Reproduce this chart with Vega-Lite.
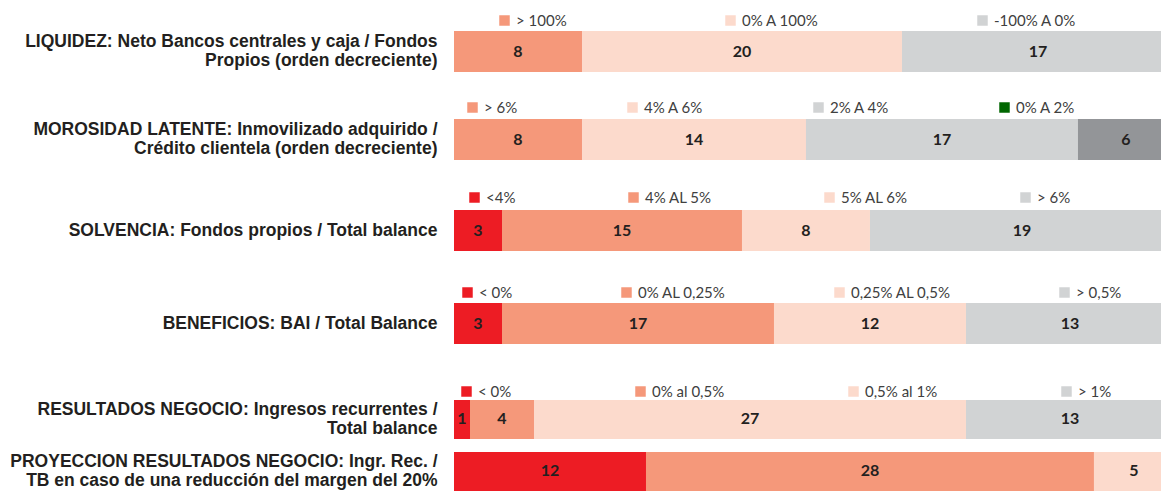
{
  "$schema": "https://vega.github.io/schema/vega-lite/v6.json",
  "padding": {"top": 13, "left": 9, "right": 0, "bottom": 0},
  "background": "white",
  "config": {
    "view": {"stroke": null},
    "legend": {"orient": "none", "direction": "horizontal", "title": null, "symbolType": "square", "symbolSize": 110, "symbolStrokeWidth": 0, "labelFont": "Lato", "labelFontSize": 15, "labelColor": "#404040", "padding": 0, "labelOffset": 4, "gridAlign": "none"},
    "axisY": {"title": null, "ticks": false, "domain": false, "labelPadding": 17, "labelFont": "Liberation Sans", "labelFontWeight": "bold", "labelFontSize": 17.5, "labelColor": "#231F20", "labelLimit": 700, "labelLineHeight": 19, "labelExpr": "split(datum.value, '\\n')", "labelAlign": "right"},
    "text": {"font": "Lato", "fontWeight": "bold", "fontSize": 16, "color": "#231F20", "clip": true},
    "bar": {"clip": true}
  },
  "data": {"values": [
    {"row": 1, "label": "LIQUIDEZ: Neto Bancos centrales y caja / Fondos\nPropios (orden decreciente)", "cat": "> 100%", "ord": 1, "n": 8},
    {"row": 1, "label": "LIQUIDEZ: Neto Bancos centrales y caja / Fondos\nPropios (orden decreciente)", "cat": "0% A 100%", "ord": 2, "n": 20},
    {"row": 1, "label": "LIQUIDEZ: Neto Bancos centrales y caja / Fondos\nPropios (orden decreciente)", "cat": "-100% A 0%", "ord": 3, "n": 17},
    {"row": 2, "label": "MOROSIDAD LATENTE: Inmovilizado adquirido /\nCrédito clientela (orden decreciente)", "cat": "> 6%", "ord": 1, "n": 8},
    {"row": 2, "label": "MOROSIDAD LATENTE: Inmovilizado adquirido /\nCrédito clientela (orden decreciente)", "cat": "4% A 6%", "ord": 2, "n": 14},
    {"row": 2, "label": "MOROSIDAD LATENTE: Inmovilizado adquirido /\nCrédito clientela (orden decreciente)", "cat": "2% A 4%", "ord": 3, "n": 17},
    {"row": 2, "label": "MOROSIDAD LATENTE: Inmovilizado adquirido /\nCrédito clientela (orden decreciente)", "cat": "0% A 2%", "ord": 4, "n": 6},
    {"row": 3, "label": "SOLVENCIA: Fondos propios / Total balance", "cat": "<4%", "ord": 1, "n": 3},
    {"row": 3, "label": "SOLVENCIA: Fondos propios / Total balance", "cat": "4% AL 5%", "ord": 2, "n": 15},
    {"row": 3, "label": "SOLVENCIA: Fondos propios / Total balance", "cat": "5% AL 6%", "ord": 3, "n": 8},
    {"row": 3, "label": "SOLVENCIA: Fondos propios / Total balance", "cat": "> 6%", "ord": 4, "n": 19},
    {"row": 4, "label": "BENEFICIOS: BAI / Total Balance", "cat": "< 0%", "ord": 1, "n": 3},
    {"row": 4, "label": "BENEFICIOS: BAI / Total Balance", "cat": "0% AL 0,25%", "ord": 2, "n": 17},
    {"row": 4, "label": "BENEFICIOS: BAI / Total Balance", "cat": "0,25% AL 0,5%", "ord": 3, "n": 12},
    {"row": 4, "label": "BENEFICIOS: BAI / Total Balance", "cat": "> 0,5%", "ord": 4, "n": 13},
    {"row": 5, "label": "RESULTADOS NEGOCIO: Ingresos recurrentes /\nTotal balance", "cat": "< 0%", "ord": 1, "n": 1},
    {"row": 5, "label": "RESULTADOS NEGOCIO: Ingresos recurrentes /\nTotal balance", "cat": "0% al 0,5%", "ord": 2, "n": 4},
    {"row": 5, "label": "RESULTADOS NEGOCIO: Ingresos recurrentes /\nTotal balance", "cat": "0,5% al 1%", "ord": 3, "n": 27},
    {"row": 5, "label": "RESULTADOS NEGOCIO: Ingresos recurrentes /\nTotal balance", "cat": "> 1%", "ord": 4, "n": 13},
    {"row": 6, "label": "PROYECCION RESULTADOS NEGOCIO: Ingr. Rec. /\nTB en caso de una reducción del margen del 20%", "cat": "< 0%", "ord": 1, "n": 12},
    {"row": 6, "label": "PROYECCION RESULTADOS NEGOCIO: Ingr. Rec. /\nTB en caso de una reducción del margen del 20%", "cat": "0% al 0,5%", "ord": 2, "n": 28},
    {"row": 6, "label": "PROYECCION RESULTADOS NEGOCIO: Ingr. Rec. /\nTB en caso de una reducción del margen del 20%", "cat": "0,5% al 1%", "ord": 3, "n": 5}
  ]},
  "bounds": "flush",
  "spacing": 47,
  "resolve": {"scale": {"color": "independent", "x": "independent", "y": "independent"}, "legend": {"color": "independent"}},
  "vconcat": [
    {
      "width": 707, "height": 41,
      "transform": [{"filter": "datum.row === 1"}],
      "encoding": {
        "y": {"field": "label", "type": "nominal", "scale": {"paddingInner": 0, "paddingOuter": 0}, "axis": {"labelOffset": -9.5}},
        "x": {"field": "n", "type": "quantitative", "stack": "zero", "scale": {"domain": [0, 44.19], "nice": false}, "axis": null},
        "order": {"field": "ord", "type": "quantitative"}
      },
      "layer": [
        {"mark": "bar", "encoding": {"color": {"field": "cat", "type": "nominal", "scale": {"domain": ["> 100%", "0% A 100%", "-100% A 0%"], "range": ["#F5987A", "#FCDACC", "#D1D3D4"]}, "legend": {"legendX": 43, "legendY": -18, "columns": 3, "columnPadding": 156}}}},
        {"mark": "text", "encoding": {"x": {"field": "n", "type": "quantitative", "stack": "zero", "bandPosition": 0.5}, "text": {"field": "n", "type": "quantitative"}}}
      ]
    },
    {
      "width": 707, "height": 41,
      "transform": [{"filter": "datum.row === 2"}],
      "encoding": {
        "y": {"field": "label", "type": "nominal", "scale": {"paddingInner": 0, "paddingOuter": 0}, "axis": {"labelOffset": -9.5}},
        "x": {"field": "n", "type": "quantitative", "stack": "zero", "scale": {"domain": [0, 44.19], "nice": false}, "axis": null},
        "order": {"field": "ord", "type": "quantitative"}
      },
      "layer": [
        {"mark": "bar", "encoding": {"color": {"condition": {"test": "datum.cat === '0% A 2%'", "value": "#939598"}, "field": "cat", "type": "nominal", "scale": {"domain": ["> 6%", "4% A 6%", "2% A 4%", "0% A 2%"], "range": ["#F5987A", "#FCDACC", "#D1D3D4", "#006600"]}, "legend": {"legendX": 11, "legendY": -19, "columns": 4, "columnPadding": 107}}}},
        {"mark": "text", "encoding": {"x": {"field": "n", "type": "quantitative", "stack": "zero", "bandPosition": 0.5}, "text": {"field": "n", "type": "quantitative"}}}
      ]
    },
    {
      "width": 707, "height": 44,
      "transform": [{"filter": "datum.row === 3"}],
      "encoding": {
        "y": {"field": "label", "type": "nominal", "scale": {"paddingInner": 0, "paddingOuter": 0.0366, "align": 1}},
        "x": {"field": "n", "type": "quantitative", "stack": "zero", "scale": {"domain": [0, 44.19], "nice": false}, "axis": null},
        "order": {"field": "ord", "type": "quantitative"}
      },
      "layer": [
        {"mark": "bar", "encoding": {"color": {"field": "cat", "type": "nominal", "scale": {"domain": ["<4%", "4% AL 5%", "5% AL 6%", "> 6%"], "range": ["#ED1C24", "#F5987A", "#FCDACC", "#D1D3D4"]}, "legend": {"legendX": 13, "legendY": -17, "columns": 4, "columnPadding": 110}}}},
        {"mark": "text", "encoding": {"x": {"field": "n", "type": "quantitative", "stack": "zero", "bandPosition": 0.5}, "text": {"field": "n", "type": "quantitative"}}}
      ]
    },
    {
      "width": 707, "height": 46,
      "transform": [{"filter": "datum.row === 4"}],
      "encoding": {
        "y": {"field": "label", "type": "nominal", "scale": {"paddingInner": 0, "paddingOuter": 0.061, "align": 1}},
        "x": {"field": "n", "type": "quantitative", "stack": "zero", "scale": {"domain": [0, 44.19], "nice": false}, "axis": null},
        "order": {"field": "ord", "type": "quantitative"}
      },
      "layer": [
        {"mark": "bar", "encoding": {"color": {"field": "cat", "type": "nominal", "scale": {"domain": ["< 0%", "0% AL 0,25%", "0,25% AL 0,5%", "> 0,5%"], "range": ["#ED1C24", "#F5987A", "#FCDACC", "#D1D3D4"]}, "legend": {"legendX": 6, "legendY": -13, "columns": 4, "columnPadding": 106}}}},
        {"mark": "text", "encoding": {"x": {"field": "n", "type": "quantitative", "stack": "zero", "bandPosition": 0.5}, "text": {"field": "n", "type": "quantitative"}}}
      ]
    },
    {
      "width": 707, "height": 100,
      "transform": [{"filter": "datum.row >= 5"}],
      "encoding": {
        "y": {"field": "label", "type": "nominal", "sort": {"field": "row", "op": "min"}, "scale": {"paddingInner": 0.25, "paddingOuter": 0.0865, "align": 1}, "axis": {"labelOffset": -9.5}},
        "x": {"field": "n", "type": "quantitative", "stack": "zero", "scale": {"domain": [0, 44.19], "nice": false}, "axis": null},
        "order": {"field": "ord", "type": "quantitative"}
      },
      "layer": [
        {"mark": "bar", "encoding": {"color": {"field": "cat", "type": "nominal", "scale": {"domain": ["< 0%", "0% al 0,5%", "0,5% al 1%", "> 1%"], "range": ["#ED1C24", "#F5987A", "#FCDACC", "#D1D3D4"]}, "legend": {"legendX": 5, "legendY": -7, "columns": 4, "columnPadding": 121}}}},
        {"mark": "text", "encoding": {"x": {"field": "n", "type": "quantitative", "stack": "zero", "bandPosition": 0.5}, "text": {"field": "n", "type": "quantitative"}}}
      ]
    }
  ]
}
